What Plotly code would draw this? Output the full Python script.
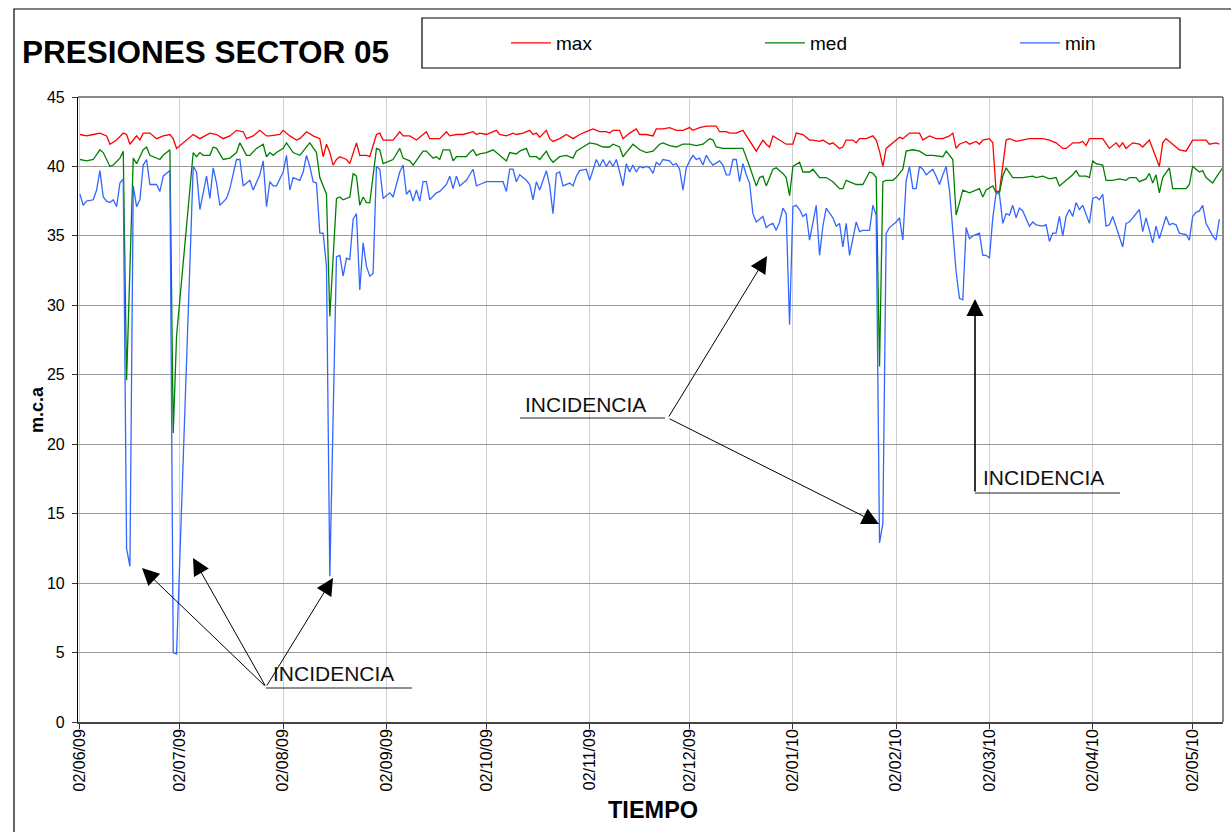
import pandas as pd
import plotly.graph_objects as go

FECHA_INICIO = "2009-06-02"

# (día desde 02/06/09, valor m.c.a)
serie_max = [(0,42.3),(2,42.2),(4,42.3),(6,42.4),(8,42.2),(9,41.6),(11,41.9),(13,42.4),(14,42.3),(15,41.6),(17,42.2),(18,41.9),(19,42.4),(21,42.4),(23,42.0),(25,42.2),(27,42.3),(28,42.0),(29,41.3),(34,42.3),(36,42.0),(39,42.4),(41,42.3),(43,42.0),(45,42.2),(47,42.6),(49,42.5),(50,42.0),(52,42.2),(54,42.6),(56,42.2),(57,42.2),(60,42.3),(61,42.6),(63,42.2),(65,41.9),(66,42.0),(68,42.5),(70,42.2),(72,42.0),(73,40.7),(74,41.6),(75,41.0),(76,40.1),(77,40.5),(78,40.7),(80,40.5),(81,40.2),(83,41.7),(84,40.8),(85,40.8),(86,40.8),(87,40.7),(89,42.3),(90,42.4),(91,41.9),(94,41.9),(96,42.5),(97,42.2),(99,42.2),(101,41.9),(104,42.5),(105,42.0),(108,42.0),(110,42.5),(111,42.2),(113,42.3),(115,42.3),(118,42.5),(119,42.3),(120,42.4),(122,42.3),(123,42.4),(125,42.6),(126,42.3),(128,42.2),(130,42.4),(131,42.3),(133,42.4),(135,42.6),(136,42.3),(137,42.4),(138,42.1),(140,42.6),(141,42.0),(142,41.8),(144,42.0),(146,42.3),(148,42.0),(150,42.3),(152,42.5),(154,42.7),(156,42.5),(158,42.5),(159,42.4),(160,42.6),(162,42.6),(163,42.0),(165,42.4),(167,42.7),(168,42.3),(170,42.3),(172,42.2),(173,42.7),(175,42.7),(177,42.8),(179,42.6),(181,42.6),(183,42.8),(184,42.6),(186,42.8),(188,42.9),(190,42.9),(191,42.9),(192,42.5),(194,42.5),(195,42.4),(197,42.4),(199,42.6),(201,41.8),(203,41.1),(205,41.9),(206,41.6),(207,41.4),(208,42.2),(210,41.9),(212,41.6),(214,41.6),(215,42.4),(217,42.3),(219,41.9),(220,41.9),(222,41.8),(223,41.9),(225,41.6),(226,41.7),(228,41.3),(229,41.4),(230,41.9),(232,41.9),(233,41.7),(234,42.0),(236,42.0),(238,42.2),(239,41.9),(240,41.1),(241,40.0),(242,41.3),(244,41.7),(246,42.1),(247,42.0),(249,42.4),(252,42.4),(253,41.9),(255,42.2),(257,42.0),(259,42.0),(261,42.2),(262,42.4),(263,41.3),(264,41.6),(266,41.8),(267,41.6),(269,41.8),(270,41.6),(271,41.9),(273,42.0),(274,41.7),(275,38.2),(276,38.2),(278,41.9),(279,42.0),(281,41.8),(283,41.9),(285,42.0),(287,42.0),(289,42.0),(291,41.9),(293,41.7),(295,41.3),(296,41.3),(298,41.7),(300,41.7),(301,41.8),(302,41.5),(303,42.0),(305,42.0),(307,42.0),(309,41.3),(311,41.7),(312,41.4),(313,41.7),(314,41.3),(316,41.7),(318,41.6),(319,41.4),(321,41.9),(322,41.3),(324,40.0),(325,41.7),(326,42.0),(328,41.6),(330,41.2),(332,41.1),(334,41.9),(336,41.9),(338,41.9),(339,41.6),(341,41.7),(342,41.6)]

serie_med = [(0,40.5),(2,40.4),(4,40.5),(6,41.2),(7,41.0),(9,40.0),(10,40.1),(12,40.6),(13,41.1),(14,24.6),(16,40.6),(17,40.2),(19,41.2),(20,41.4),(21,40.8),(24,40.5),(25,40.8),(27,41.2),(28,20.8),(29,27.8),(34,41.0),(35,40.7),(36,41.0),(37,40.8),(39,40.8),(40,41.4),(41,41.3),(43,40.5),(45,40.6),(47,41.0),(48,41.7),(50,40.8),(51,40.8),(53,41.3),(55,41.6),(56,40.7),(57,41.0),(58,40.8),(59,41.0),(61,41.3),(62,41.7),(64,41.0),(66,40.8),(68,41.4),(69,41.7),(71,41.0),(72,39.2),(74,38.0),(75,29.2),(77,37.7),(78,37.8),(79,37.6),(81,37.8),(82,39.5),(83,39.3),(84,37.2),(85,37.8),(86,37.4),(87,37.4),(89,41.3),(90,41.2),(91,40.2),(94,40.5),(96,41.3),(97,40.6),(99,40.4),(100,40.1),(103,41.1),(104,41.1),(106,40.6),(107,40.7),(108,40.5),(109,41.2),(111,41.2),(112,40.4),(113,40.7),(116,40.7),(117,41.0),(118,41.2),(119,40.8),(120,40.9),(122,41.0),(124,41.2),(125,41.0),(126,40.8),(128,40.4),(129,41.0),(131,40.9),(132,41.1),(134,41.3),(135,40.7),(137,40.7),(138,40.5),(140,41.1),(141,40.6),(142,40.3),(144,40.7),(146,40.8),(148,40.6),(149,41.1),(151,41.4),(153,41.7),(155,41.6),(157,41.4),(159,41.4),(160,41.6),(162,41.4),(163,40.7),(165,41.3),(166,41.6),(168,41.2),(170,41.0),(172,41.1),(174,41.6),(175,41.7),(177,41.5),(179,41.4),(181,41.6),(183,41.6),(185,41.5),(187,41.6),(189,42.0),(190,41.9),(191,41.4),(193,41.3),(195,41.3),(197,41.3),(199,41.3),(201,40.0),(203,38.6),(204,39.2),(205,39.3),(206,38.6),(208,39.8),(209,39.9),(211,39.5),(212,39.2),(213,37.9),(214,40.0),(216,40.3),(217,39.6),(219,39.6),(220,39.8),(222,39.2),(224,39.2),(226,38.9),(228,38.4),(229,38.4),(230,39.0),(231,38.9),(233,38.7),(235,38.7),(237,39.6),(238,39.5),(239,39.2),(240,25.6),(241,38.9),(242,39.0),(244,39.0),(245,39.2),(247,39.8),(248,41.1),(250,41.2),(252,41.1),(254,40.8),(256,40.8),(258,40.7),(259,40.7),(260,41.1),(262,40.5),(263,36.5),(265,38.3),(267,38.1),(268,38.2),(270,38.4),(271,37.8),(272,38.3),(274,38.6),(275,38.1),(276,38.1),(277,39.3),(278,39.9),(280,39.2),(283,39.2),(286,39.3),(287,39.2),(289,39.3),(291,39.1),(293,39.2),(294,38.6),(296,39.0),(298,39.4),(299,39.7),(300,39.3),(302,39.3),(303,39.2),(304,40.4),(305,40.2),(307,40.1),(308,39.0),(310,39.0),(312,39.1),(314,39.0),(315,39.2),(317,39.2),(318,38.9),(320,39.1),(321,39.5),(322,38.8),(323,39.4),(324,38.1),(325,39.2),(327,39.9),(328,38.4),(330,38.4),(332,38.4),(333,38.7),(334,40.0),(336,39.6),(337,39.7),(338,39.2),(340,38.8),(341,39.2),(343,39.9)]

serie_min = [(0,38.0),(1,37.2),(2,37.5),(4,37.6),(5,38.3),(6,39.7),(7,37.8),(8,37.5),(9,37.4),(10,37.6),(11,37.1),(12,38.8),(13,39.1),(14,12.5),(15,11.2),(16,38.6),(17,37.1),(18,37.6),(19,40.1),(20,40.5),(21,38.7),(23,38.7),(24,38.2),(25,39.3),(27,39.7),(28,5.0),(29,4.9),(34,40.0),(35,39.6),(36,36.9),(37,38.1),(38,39.3),(39,37.7),(40,39.9),(41,38.8),(42,37.2),(44,37.7),(45,38.4),(47,40.5),(48,40.5),(49,38.6),(51,39.0),(52,38.3),(54,39.4),(55,40.4),(56,37.1),(57,38.9),(58,38.6),(59,38.6),(61,39.6),(62,40.8),(63,38.3),(64,39.2),(66,39.0),(67,39.6),(68,40.8),(69,40.0),(70,38.9),(71,38.8),(72,35.2),(73,35.2),(74,32.8),(75,10.5),(77,33.5),(78,33.6),(79,32.1),(80,33.4),(81,33.3),(82,36.2),(83,36.6),(84,31.1),(85,34.5),(86,32.8),(87,32.1),(88,32.3),(89,40.0),(90,39.8),(91,37.7),(93,38.1),(94,37.8),(96,39.6),(97,40.1),(98,38.0),(99,38.3),(100,37.5),(101,38.3),(102,37.5),(103,38.9),(104,38.9),(105,37.6),(107,38.1),(108,38.2),(110,38.7),(111,39.3),(112,38.4),(113,39.3),(114,38.6),(116,39.0),(118,39.8),(119,38.6),(120,38.7),(122,38.9),(124,38.9),(127,38.9),(128,38.2),(129,39.8),(130,39.8),(131,38.9),(132,39.4),(134,39.0),(135,38.7),(136,37.6),(137,38.9),(138,38.3),(139,39.0),(140,39.7),(141,38.6),(142,36.6),(143,39.5),(144,39.6),(145,38.6),(147,38.8),(148,38.6),(149,39.3),(150,39.7),(152,39.8),(153,39.0),(154,39.8),(155,40.5),(156,40.0),(157,40.5),(158,40.0),(159,40.4),(160,40.0),(161,40.5),(162,39.6),(163,38.6),(164,40.2),(165,39.6),(166,40.1),(167,39.6),(168,40.0),(169,39.9),(170,40.0),(171,39.9),(172,39.5),(173,40.3),(174,40.1),(175,40.5),(177,40.4),(178,40.1),(179,40.2),(180,39.8),(181,38.3),(182,39.9),(183,40.4),(184,40.8),(185,40.5),(186,40.6),(187,40.1),(188,40.8),(189,40.4),(190,40.1),(192,40.4),(193,40.1),(194,39.4),(195,39.4),(196,40.5),(197,40.5),(198,38.9),(199,40.2),(200,39.4),(201,38.8),(202,36.6),(203,36.0),(204,36.2),(205,36.4),(206,35.6),(207,35.8),(208,35.9),(209,35.4),(210,36.0),(211,37.0),(212,36.6),(213,28.6),(214,37.1),(215,37.2),(216,36.9),(217,36.4),(218,36.6),(219,34.7),(221,37.2),(222,33.6),(223,35.7),(224,37.0),(226,36.3),(227,35.7),(228,35.9),(229,34.2),(230,35.9),(231,33.6),(233,36.0),(234,35.3),(235,35.4),(237,35.4),(238,37.2),(239,36.5),(240,12.9),(241,14.3),(242,35.2),(243,35.6),(245,36.0),(246,36.3),(247,34.7),(248,39.0),(249,40.0),(250,38.4),(251,38.4),(252,40.0),(253,39.8),(254,39.4),(255,39.6),(256,39.8),(257,39.3),(258,38.7),(259,39.4),(260,40.0),(261,38.3),(263,32.4),(264,30.5),(265,30.4),(266,35.6),(267,34.8),(268,35.0),(270,35.2),(271,33.6),(272,33.6),(273,33.4),(274,36.3),(275,38.1),(276,38.0),(277,35.9),(278,36.6),(279,36.5),(280,37.2),(281,36.3),(282,37.0),(283,36.8),(285,35.7),(286,36.0),(287,35.8),(289,35.7),(290,35.8),(291,34.6),(292,35.2),(293,35.2),(294,36.4),(295,35.0),(296,36.4),(297,36.9),(298,36.4),(299,37.4),(300,36.9),(301,37.2),(303,35.9),(304,37.7),(305,37.8),(306,37.6),(307,38.0),(308,35.7),(309,35.8),(310,36.4),(311,35.7),(313,34.2),(314,35.9),(315,36.0),(316,36.3),(318,36.9),(319,35.3),(320,36.3),(322,34.5),(323,35.7),(324,34.8),(326,36.4),(327,35.8),(328,35.9),(329,35.8),(330,35.2),(332,35.1),(333,34.7),(334,36.4),(335,36.7),(336,36.8),(337,37.2),(338,35.9),(340,35.0),(341,34.7),(342,36.2)]

ticks_fechas = ["2009-06-02", "2009-07-02", "2009-08-02", "2009-09-02", "2009-10-02",
                "2009-11-02", "2009-12-02", "2010-01-02", "2010-02-02", "2010-03-02",
                "2010-04-02", "2010-05-02"]
ticks_texto = ["02/06/09", "02/07/09", "02/08/09", "02/09/09", "02/10/09", "02/11/09",
               "02/12/09", "02/01/10", "02/02/10", "02/03/10", "02/04/10", "02/05/10"]
y_ticks = [0, 5, 10, 15, 20, 25, 30, 35, 40, 45]

series = [("max", serie_max, "#FF0000", "legend"),
          ("med", serie_med, "#008000", "legend2"),
          ("min", serie_min, "#3366FF", "legend3")]

FONT = "Liberation Sans, Arial, sans-serif"
W, H = 1231, 832
L, R, T, B = 78, 1223, 97, 722  # plot area in pixels


def fechas(dias):
    return pd.Timestamp(FECHA_INICIO) + pd.to_timedelta(list(dias), unit="D")


def px(x):
    return (x - L) / (R - L)


def py(y):
    return (B - y) / (B - T)


fig = go.Figure()
for nombre, datos, color, leyenda in series:
    dias = [d for d, _ in datos]
    vals = [v for _, v in datos]
    fig.add_trace(go.Scatter(x=fechas(dias), y=vals, mode="lines", name=nombre,
                             legend=leyenda, line=dict(color=color, width=1.3)))

x0 = pd.Timestamp(FECHA_INICIO) - pd.Timedelta(hours=14)
x1 = pd.Timestamp(FECHA_INICIO) + pd.Timedelta(days=343.1)


def leyenda_en(xpix):
    return dict(orientation="h", x=px(xpix), y=py(43), xanchor="left", yanchor="middle",
                bgcolor="rgba(0,0,0,0)", borderwidth=0, font=dict(size=19, family=FONT),
                itemwidth=40)


fig.update_layout(
    width=W, height=H,
    margin=dict(l=L, r=W - R, t=T, b=H - B, pad=0),
    paper_bgcolor="white", plot_bgcolor="white",
    font=dict(family=FONT, color="#000"),
    showlegend=True,
    legend=leyenda_en(506), legend2=leyenda_en(760), legend3=leyenda_en(1015),
    xaxis=dict(type="date", range=[x0, x1], tickvals=ticks_fechas, ticktext=ticks_texto,
               tickangle=-90, tickfont=dict(size=16, family=FONT), ticks="outside", ticklen=5,
               ticklabelstandoff=-6,
               tickcolor="#333", showgrid=True, gridcolor="#CFCFCF", gridwidth=1,
               showline=True, linecolor="#444", linewidth=1.5, zeroline=False),
    yaxis=dict(range=[0, 45], tickvals=y_ticks, tickfont=dict(size=16, family=FONT),
               ticks="outside", ticklen=5, tickcolor="#333", ticklabelstandoff=4, showgrid=True,
               gridcolor="#9A9A9A", gridwidth=1, showline=True, linecolor="#000",
               linewidth=1.2, zeroline=False),
)

shapes = []
# outer chart border
shapes.append(dict(type="rect", xref="paper", yref="paper", x0=px(14), x1=px(1260),
                   y0=py(860), y1=py(9), line=dict(color="#000", width=1.2)))
# plot area border (top / right)
shapes.append(dict(type="line", xref="paper", yref="paper", x0=0, x1=1, y0=1, y1=1,
                   line=dict(color="#8A8A8A", width=2)))
shapes.append(dict(type="line", xref="paper", yref="paper", x0=1, x1=1, y0=0, y1=1,
                   line=dict(color="#8A8A8A", width=2)))
# legend box
shapes.append(dict(type="rect", xref="paper", yref="paper", x0=px(422), x1=px(1180),
                   y0=py(68), y1=py(18), line=dict(color="#000", width=1.2)))
# underlines of the notes
for (a, b, yy) in [(266, 412, 688), (520, 665, 418), (975, 1120, 493)]:
    shapes.append(dict(type="line", xref="paper", yref="paper", x0=px(a), x1=px(b),
                       y0=py(yy), y1=py(yy), line=dict(color="#222", width=1.2)))
fig.update_layout(shapes=shapes)

ann = []
ann.append(dict(text="<b>PRESIONES SECTOR 05</b>", xref="paper", yref="paper", x=px(20), y=py(52),
                xanchor="left", yanchor="middle", showarrow=False, font=dict(size=31.5, family=FONT)))
ann.append(dict(text="<b>m.c.a</b>", xref="paper", yref="paper", x=px(37), y=py(410),
                xanchor="center", yanchor="middle", textangle=-90, showarrow=False,
                font=dict(size=18, family=FONT)))
ann.append(dict(text="<b>TIEMPO</b>", xref="paper", yref="paper", x=px(653), y=py(810),
                xanchor="center", yanchor="middle", showarrow=False, font=dict(size=23.5, family=FONT)))
for (tx, ty) in [(271, 673), (523, 404), (981, 478)]:
    ann.append(dict(text="INCIDENCIA", xref="paper", yref="paper", x=px(tx), y=py(ty),
                    xanchor="left", yanchor="middle", showarrow=False,
                    font=dict(size=21, family=FONT, color="#111")))
flechas = [((266, 687), (142, 568), 1.0), ((266, 687), (193, 558), 1.0), ((266, 687), (333, 578), 1.0),
           ((668, 418), (767, 256), 1.0), ((668, 418), (879, 524), 1.0), ((975, 493), (975, 299), 1.6)]
for (cola, punta, ancho) in flechas:
    ann.append(dict(text="", xref="paper", yref="paper", x=px(punta[0]), y=py(punta[1]),
                    ax=cola[0] - punta[0], ay=cola[1] - punta[1], axref="pixel", ayref="pixel",
                    showarrow=True, arrowhead=2, arrowsize=3.4 / ancho, arrowwidth=ancho,
                    arrowcolor="#000"))
fig.update_layout(annotations=ann)

fig.write_html("out.html", config={"displayModeBar": False},
               post_script="document.body.style.margin='0';")
